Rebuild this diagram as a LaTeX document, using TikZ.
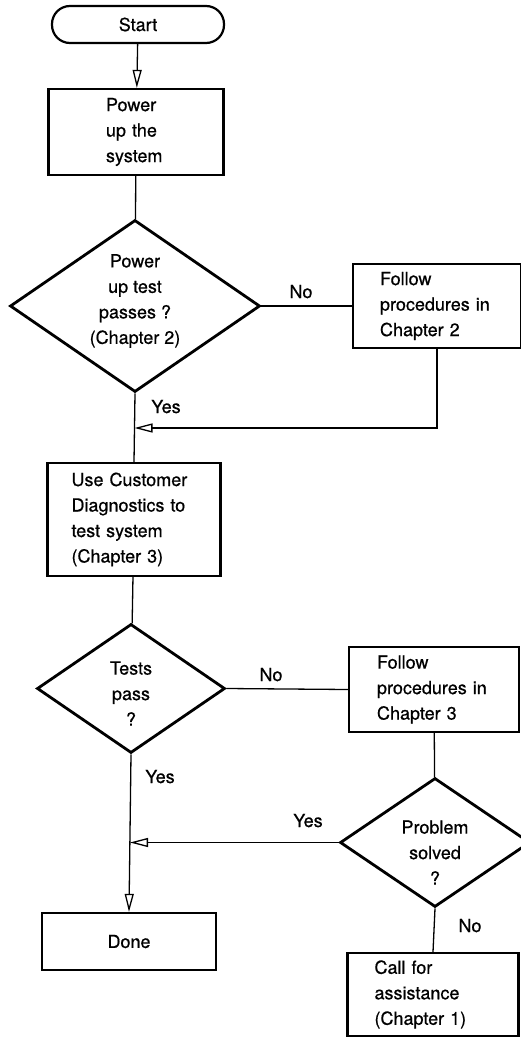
\documentclass[tikz,border=0pt]{standalone}
\usepackage{fontspec}
\setmainfont[FakeBold=0.6]{TeX Gyre Heros}
\usetikzlibrary{shapes.geometric,arrows.meta}
\begin{document}
\begin{tikzpicture}[x=1pt,y=-1pt,
  every node/.style={font=\fontsize{18}{25.5}\selectfont},
  terminal/.style={draw, line width=2.2pt, rectangle, rounded corners=18pt,
    minimum width=172pt, minimum height=37pt, inner sep=0pt},
  procbox/.style={draw, line width=2.2pt, rectangle, align=left, inner ysep=0pt},
  decision/.style={draw, line width=2.8pt, diamond, inner sep=0pt},
  dtext/.style={align=center, inner sep=0pt},
  lbl/.style={anchor=base, inner sep=0pt},
  link/.style={line width=1.3pt},
  flow/.style={line width=1.3pt, -{Triangle[open, length=18pt, width=9pt, line width=1.3pt]}}
]
\useasboundingbox (0,0) rectangle (521,1038);
\clip (0,0) rectangle (521,1038);

% main column
\node[terminal] (start) at (138,24.5) {Start};
\node[procbox, text width=60pt, inner xsep=57.5pt, minimum height=86pt]
  (power) at (136,132) {Power\\up the\\system};
\node[decision, minimum width=250pt, minimum height=172pt, aspect=1.45]
  (pwrtest) at (135,306) {};
\node[dtext] (pwrtesttxt) at ([yshift=5pt]pwrtest.center)
  {Power\\up test\\passes ?\\(Chapter 2)};
\node[procbox, text width=125pt, inner xsep=24pt, minimum height=113pt]
  (diag) at (134,519.5) {Use Customer\\Diagnostics to\\test system\\(Chapter 3)};
\node[decision, minimum width=188pt, minimum height=129pt, aspect=1.46]
  (tests) at (131,688.5) {};
\node[dtext] (teststxt) at ([yshift=-5pt]tests.center) {Tests\\pass\\?};
\node[procbox, align=center, minimum width=174pt, minimum height=57pt]
  (done) at (129,941.5) {Done};

% right column
\node[procbox, text width=114pt, inner xsep=27pt, minimum height=84pt]
  (proc2) at (437,306) {Follow\\procedures in\\Chapter 2};
\node[procbox, text width=114pt, inner xsep=28pt, minimum height=85pt]
  (proc3) at (434,689.5) {Follow\\procedures in\\Chapter 3};
\node[decision, minimum width=190pt, minimum height=129pt, aspect=1.47]
  (solved) at (435,842.5) {};
\node[dtext] (solvedtxt) at ([yshift=-10pt]solved.center) {Problem\\solved\\?};
\node[procbox, text width=117pt, inner xsep=27pt, minimum height=83pt]
  (assist) at (433,994.5) {Call for\\assistance\\(Chapter 1)};

% branch labels
\node[lbl] (no1) at (301,298) {No};
\node[lbl] (yes1) at (166,413) {Yes};
\node[lbl] (no2) at (271,681) {No};
\node[lbl] (yes2) at (160,783) {Yes};
\node[lbl] (yes3) at (308,827) {Yes};
\node[lbl] (no3) at (470,932) {No};

% merge points on the main column
\coordinate (join1) at (134.5,428);
\coordinate (join2) at (130,842.5);

% connectors
\draw[flow] (start) -- (power);
\draw[link] (power) -- (pwrtest);
\draw[link] (pwrtest.east) -- (proc2.west);
\draw[link] (pwrtest.south) -- (diag.north);
\draw[flow] (proc2.south) |- (join1);
\draw[link] (diag) -- (tests);
\draw[link] (tests.east) -- (proc3.west);
\draw[flow] (tests.south) -- (done.north);
\draw[link] (proc3) -- (solved);
\draw[flow] (solved.west) -- (join2);
\draw[link] (solved.south) -- (assist.north);
\end{tikzpicture}
\end{document}
